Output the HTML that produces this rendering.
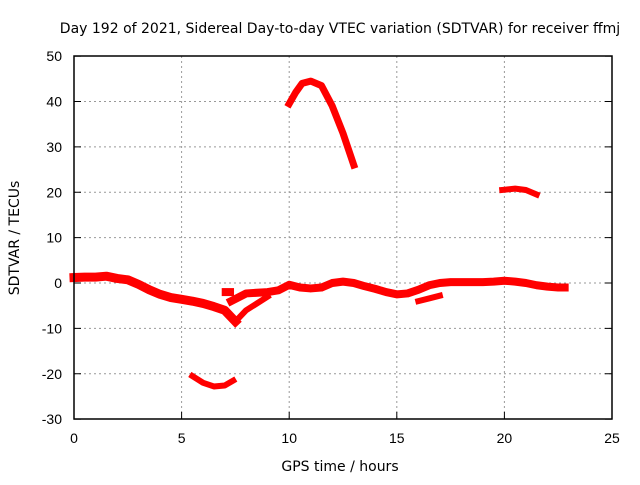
<!DOCTYPE html>
<html><head><meta charset="utf-8"><style>
body{margin:0;background:#fff;}
text{font-family:"Liberation Sans",sans-serif;font-size:14px;fill:#000;}
text.ttl{font-family:"DejaVu Sans",sans-serif;font-size:14px;}
</style></head><body>
<svg width="640" height="480">
<g id="grid"></g>
<g id="series"></g>
<rect x="74" y="56" width="538" height="363" fill="none" stroke="#000" stroke-width="1.5"/>
<g id="ticks"></g>
<text class="ttl" x="340" y="33" text-anchor="middle">Day 192 of 2021, Sidereal Day-to-day VTEC variation (SDTVAR) for receiver ffmj</text>
<text class="ttl" x="340" y="471" text-anchor="middle">GPS time / hours</text>
<text class="ttl" transform="translate(19,238) rotate(-90)" text-anchor="middle">SDTVAR / TECUs</text>
</svg>
<script>
const xTicks=[0,5,10,15,20,25];
const yTicks=[-30,-20,-10,0,10,20,30,40,50];
const segMainA=[[0,1.2],[0.5,1.3],[1,1.3],[1.5,1.5],[2,1],[2.5,0.7],[3,-0.3],[3.5,-1.5],[4,-2.5],[4.5,-3.2],[5,-3.6],[5.5,-4],[6,-4.5],[6.5,-5.2],[7,-6],[7.5,-8.5]];
const segMainB=[[7.5,-8.5],[8,-6],[8.5,-4.5],[9,-3]];
const segMainC=[[7.3,-4],[8,-2.3],[9,-2],[9.5,-1.6],[10,-0.4],[10.5,-1],[11,-1.2],[11.5,-1],[12,0],[12.5,0.3],[13,0],[13.5,-0.7],[14,-1.3],[14.5,-2],[15,-2.5],[15.5,-2.3],[16,-1.5],[16.5,-0.5],[17,0],[17.5,0.2],[18,0.2],[19,0.2],[19.5,0.3],[20,0.5],[20.5,0.3],[21,0],[21.5,-0.5],[22,-0.8],[22.5,-1],[22.8,-1]];
const segLowB=[[16,-4],[16.5,-3.4],[17,-2.8]];
const segBlob=[[7.05,-2],[7.25,-2]];
const arcLow=[[5.5,-20.5],[6,-22],[6.5,-22.8],[7,-22.6],[7.4,-21.5]];
const arcHigh=[[10,39.5],[10.3,42],[10.6,44],[11,44.5],[11.5,43.5],[12,39],[12.5,33],[13,26]];
const seg20=[[19.9,20.5],[20.5,20.8],[21,20.5],[21.5,19.5]];
const X=v=>74+v*538/25, Y=v=>283-v*363/80;
const NS="http://www.w3.org/2000/svg";
const grid=document.getElementById('grid'),ticks=document.getElementById('ticks'),ser=document.getElementById('series');
function mk(tag,attrs,parent){const e=document.createElementNS(NS,tag);for(const k in attrs)e.setAttribute(k,attrs[k]);parent.appendChild(e);return e;}
xTicks.forEach(t=>{
 if(t>0&&t<25){const g=mk('line',{x1:X(t),x2:X(t),y1:56,y2:419,stroke:'#999','stroke-dasharray':'2,3'},grid);
 
 }
 const l=mk('line',{x1:X(t),x2:X(t),y1:419,y2:412,stroke:'#000'},ticks);
 
 
 const tx=mk('text',{x:X(t),y:443,'text-anchor':'middle'},ticks);tx.textContent=t;
 
 
});
yTicks.forEach(t=>{
 if(t>-30&&t<50){const g=mk('line',{x1:74,x2:612,y1:Y(t),y2:Y(t),stroke:'#999','stroke-dasharray':'2,3'},grid);
 
 }
 const l=mk('line',{x1:74,x2:81,y1:Y(t),y2:Y(t),stroke:'#000'},ticks);
 
 
 const l2=mk('line',{x1:605,x2:612,y1:Y(t),y2:Y(t),stroke:'#000'},ticks);
 
 
 const tx=mk('text',{x:62,y:Y(t)+5,'text-anchor':'end'},ticks);tx.textContent=t;
 
 
});
[[segMainA,9],[segMainB,6],[segMainC,8],[segLowB,6],[segBlob,8],[arcLow,6],[arcHigh,7],[seg20,6]].forEach(([s,w])=>{
 const p=mk('polyline',{points:s.map(d=>X(d[0])+','+Y(d[1])).join(' '),fill:'none',stroke:'#f00','stroke-width':w,'stroke-linejoin':'round','stroke-linecap':'square'},ser);
 
 
});
</script>
</body></html>
